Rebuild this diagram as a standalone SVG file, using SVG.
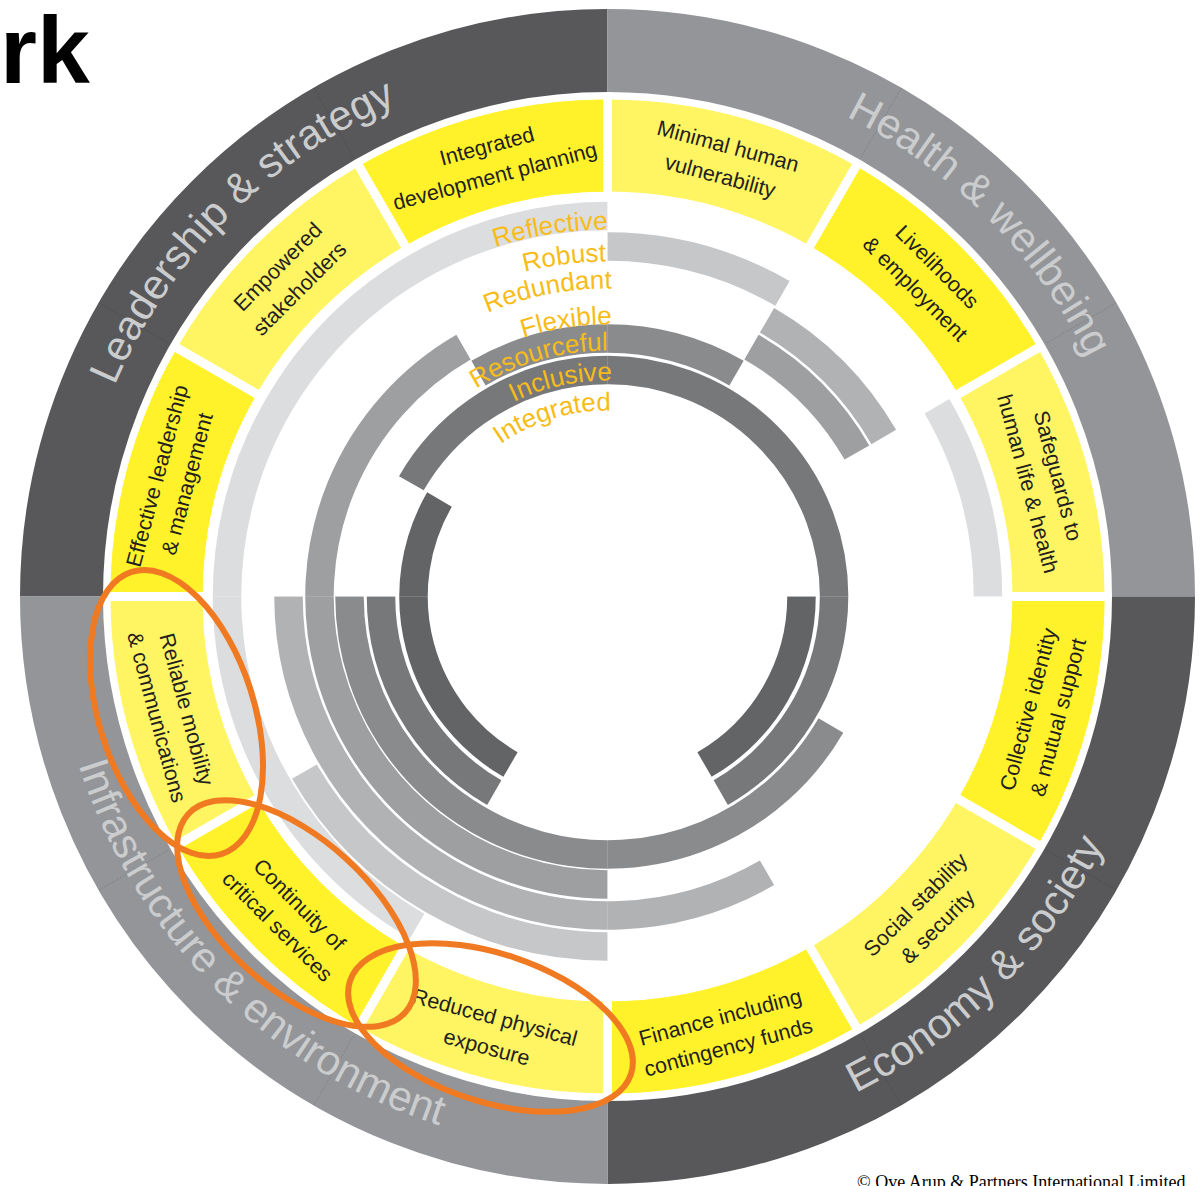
<svg xmlns="http://www.w3.org/2000/svg" width="1203" height="1186" viewBox="0 0 1203 1186">
<style>
.c{fill:none}
.qd{stroke:#58585a}
.qm{stroke:#939598}
.outer{stroke-width:83}
.ylw{stroke-width:92}
.yb{stroke:#fff22b}
.yl{stroke:#fff462}
.rg{stroke-width:28.5}
.r1{stroke:#dcddde}
.r2{stroke:#c6c7c9}
.r3{stroke:#b1b2b4}
.r4{stroke:#9e9fa1}
.r5{stroke:#8a8b8d}
.r6{stroke:#77787a}
.r7{stroke:#636466}
.gap{stroke:#ffffff;stroke-width:9}
.seam{stroke:#000000;stroke-opacity:0.12;stroke-width:1;stroke-dasharray:1.5 1.5}
.iseam{stroke:#ffffff;stroke-opacity:0.15;stroke-width:1}
.goal{font-family:"Liberation Sans",Arial,sans-serif;font-size:21.5px;fill:#231f20;text-anchor:middle}
.qual{font-family:"Liberation Sans",Arial,sans-serif;font-size:26px;fill:#f7bc18;text-anchor:end}
.dom{font-family:"Liberation Sans",Arial,sans-serif;font-size:42px;fill:#cbccce;text-anchor:middle}
.oval{fill:none;stroke:#f07a22;stroke-width:6}
</style>
<defs>
<path id="p-lead" d="M79.65,689.58 A536,536 0 0 1 700.58,68.64"/>
<path id="p-health" d="M514.42,68.64 A536,536 0 0 1 1135.36,689.58"/>
<path id="p-econ" d="M511.12,1143.07 A555,555 0 0 0 1154.07,500.12"/>
<path id="p-infra" d="M60.93,500.12 A555,555 0 0 0 703.88,1143.07"/>
<path id="p-q1" d="M262.63,722.01 A367,367 0 0 1 671.23,235.07"/>
<path id="p-q2" d="M292.70,711.07 A335,335 0 0 1 665.67,266.59"/>
<path id="p-q3" d="M318.07,701.84 A308,308 0 0 1 660.98,293.18"/>
<path id="p-q4" d="M351.90,689.52 A272,272 0 0 1 654.73,328.63"/>
<path id="p-q5" d="M376.33,680.63 A246,246 0 0 1 650.22,354.24"/>
<path id="p-q6" d="M404.52,670.37 A216,216 0 0 1 645.01,383.78"/>
<path id="p-q7" d="M432.72,660.11 A186,186 0 0 1 639.80,413.33"/>
</defs>

<g id="title">
<text x="0" y="83" font-family="Liberation Sans,Arial,sans-serif" font-size="95" font-weight="bold" fill="#000000">rk</text>
</g>

<g id="outer-ring">
<path id="q-leadership" class="c qd outer" d="M61.5,596.5 A546,546 0 0 1 607.5,50.5"/>
<path id="q-health" class="c qm outer" d="M607.5,50.5 A546,546 0 0 1 1153.5,596.5"/>
<path id="q-economy" class="c qd outer" d="M1153.5,596.5 A546,546 0 0 1 607.5,1142.5"/>
<path id="q-infrastructure" class="c qm outer" d="M607.5,1142.5 A546,546 0 0 1 61.5,596.5"/>
<g>
<line class="seam" x1="607.5" y1="9.5" x2="607.5" y2="90.5" transform="rotate(30 607.5 596.5)"/>
<line class="seam" x1="607.5" y1="9.5" x2="607.5" y2="90.5" transform="rotate(60 607.5 596.5)"/>
<line class="seam" x1="607.5" y1="9.5" x2="607.5" y2="90.5" transform="rotate(120 607.5 596.5)"/>
<line class="seam" x1="607.5" y1="9.5" x2="607.5" y2="90.5" transform="rotate(150 607.5 596.5)"/>
<line class="seam" x1="607.5" y1="9.5" x2="607.5" y2="90.5" transform="rotate(210 607.5 596.5)"/>
<line class="seam" x1="607.5" y1="9.5" x2="607.5" y2="90.5" transform="rotate(240 607.5 596.5)"/>
<line class="seam" x1="607.5" y1="9.5" x2="607.5" y2="90.5" transform="rotate(300 607.5 596.5)"/>
<line class="seam" x1="607.5" y1="9.5" x2="607.5" y2="90.5" transform="rotate(330 607.5 596.5)"/>
</g>
<text class="dom"><textPath href="#p-lead" startOffset="50%">Leadership &amp; strategy</textPath></text>
<text class="dom"><textPath href="#p-health" startOffset="50%">Health &amp; wellbeing</textPath></text>
<text class="dom"><textPath href="#p-econ" startOffset="50%">Economy &amp; society</textPath></text>
<text class="dom"><textPath href="#p-infra" startOffset="50%">Infrastructure &amp; environment</textPath></text>
</g>

<g id="goals-ring">
<circle class="c yl ylw" cx="607.5" cy="596.5" r="451"/>
<path class="c yb ylw" d="M833,205.92 A451,451 0 0 1 998.08,371"/>
<path class="c yb ylw" d="M1058.5,596.5 A451,451 0 0 1 998.08,822"/>
<path class="c yb ylw" d="M833,987.08 A451,451 0 0 1 607.5,1047.5"/>
<path class="c yb ylw" d="M382,987.08 A451,451 0 0 1 216.92,822"/>
<path class="c yb ylw" d="M156.5,596.5 A451,451 0 0 1 216.92,371"/>
<path class="c yb ylw" d="M382,205.92 A451,451 0 0 1 607.5,145.5"/>
<g>
<line class="gap" x1="607.5" y1="93.5" x2="607.5" y2="195.5"/>
<line class="gap" x1="607.5" y1="93.5" x2="607.5" y2="195.5" transform="rotate(30 607.5 596.5)"/>
<line class="gap" x1="607.5" y1="93.5" x2="607.5" y2="195.5" transform="rotate(60 607.5 596.5)"/>
<line class="gap" x1="607.5" y1="93.5" x2="607.5" y2="195.5" transform="rotate(90 607.5 596.5)"/>
<line class="gap" x1="607.5" y1="93.5" x2="607.5" y2="195.5" transform="rotate(120 607.5 596.5)"/>
<line class="gap" x1="607.5" y1="93.5" x2="607.5" y2="195.5" transform="rotate(150 607.5 596.5)"/>
<line class="gap" x1="607.5" y1="93.5" x2="607.5" y2="195.5" transform="rotate(180 607.5 596.5)"/>
<line class="gap" x1="607.5" y1="93.5" x2="607.5" y2="195.5" transform="rotate(210 607.5 596.5)"/>
<line class="gap" x1="607.5" y1="93.5" x2="607.5" y2="195.5" transform="rotate(240 607.5 596.5)"/>
<line class="gap" x1="607.5" y1="93.5" x2="607.5" y2="195.5" transform="rotate(270 607.5 596.5)"/>
<line class="gap" x1="607.5" y1="93.5" x2="607.5" y2="195.5" transform="rotate(300 607.5 596.5)"/>
<line class="gap" x1="607.5" y1="93.5" x2="607.5" y2="195.5" transform="rotate(330 607.5 596.5)"/>
</g>
</g>

<g id="goal-minimal-human-vulnerability" transform="translate(724.2,160.9) rotate(15)"><text class="goal"><tspan x="0" y="-8">Minimal human</tspan><tspan x="0" y="23">vulnerability</tspan></text></g>
<g id="goal-livelihoods" transform="translate(926.4,277.6) rotate(45)"><text class="goal"><tspan x="0" y="-8">Livelihoods</tspan><tspan x="0" y="23">&amp; employment</tspan></text></g>
<g id="goal-safeguards" transform="translate(1043.1,479.8) rotate(75)"><text class="goal"><tspan x="0" y="-8">Safeguards to</tspan><tspan x="0" y="23">human life &amp; health</tspan></text></g>
<g id="goal-collective-identity" transform="translate(1043.1,713.2) rotate(-75)"><text class="goal"><tspan x="0" y="-8">Collective identity</tspan><tspan x="0" y="23">&amp; mutual support</tspan></text></g>
<g id="goal-social-stability" transform="translate(926.4,915.4) rotate(-45)"><text class="goal"><tspan x="0" y="-8">Social stability</tspan><tspan x="0" y="23">&amp; security</tspan></text></g>
<g id="goal-finance" transform="translate(724.2,1032.1) rotate(-15)"><text class="goal"><tspan x="0" y="-8">Finance including</tspan><tspan x="0" y="23">contingency funds</tspan></text></g>
<g id="goal-reduced-exposure" transform="translate(490.8,1032.1) rotate(15)"><text class="goal"><tspan x="0" y="-8">Reduced physical</tspan><tspan x="0" y="23">exposure</tspan></text></g>
<g id="goal-continuity" transform="translate(288.6,915.4) rotate(45)"><text class="goal"><tspan x="0" y="-8">Continuity of</tspan><tspan x="0" y="23">critical services</tspan></text></g>
<g id="goal-reliable-mobility" transform="translate(171.9,713.2) rotate(75)"><text class="goal"><tspan x="0" y="-8">Reliable mobility</tspan><tspan x="0" y="23">&amp; communications</tspan></text></g>
<g id="goal-effective-leadership" transform="translate(171.9,479.8) rotate(-75)"><text class="goal"><tspan x="0" y="-8">Effective leadership</tspan><tspan x="0" y="23">&amp; management</tspan></text></g>
<g id="goal-empowered-stakeholders" transform="translate(288.6,277.6) rotate(-45)"><text class="goal"><tspan x="0" y="-8">Empowered</tspan><tspan x="0" y="23">stakeholders</tspan></text></g>
<g id="goal-integrated-planning" transform="translate(490.8,160.9) rotate(-15)"><text class="goal"><tspan x="0" y="-8">Integrated</tspan><tspan x="0" y="23">development planning</tspan></text></g>

<g id="qualities">
<path id="reflective-a" class="c rg r1" d="M937.01,406.25 A380.5,380.5 0 0 1 988,596.5"/>
<path id="reflective-b" class="c rg r1" d="M417.25,926.01 A380.5,380.5 0 0 1 607.5,216"/>
<path id="robust-a" class="c rg r2" d="M607.5,246.5 A350,350 0 0 1 782.5,293.39"/>
<path id="robust-b" class="c rg r2" d="M607.5,946.5 A350,350 0 0 1 304.39,771.5"/>
<path id="redundant-a" class="c rg r3" d="M767,320.24 A319,319 0 0 1 883.76,437"/>
<path id="redundant-b" class="c rg r3" d="M767,872.76 A319,319 0 0 1 288.5,596.5"/>
<path id="flexible-a" class="c rg r4" d="M751.5,347.08 A288,288 0 0 1 856.92,452.5"/>
<path id="flexible-b" class="c rg r4" d="M607.5,884.5 A288,288 0 0 1 463.5,347.08"/>
<path id="resourceful-a" class="c rg r5" d="M478.5,373.07 A258,258 0 0 1 736.5,373.07"/>
<path id="resourceful-b" class="c rg r5" d="M830.93,725.5 A258,258 0 0 1 349.5,596.5"/>
<path id="inclusive-a" class="c rg r6" d="M411.35,483.25 A226.5,226.5 0 1 1 720.75,792.65"/>
<path id="inclusive-b" class="c rg r6" d="M494.25,792.65 A226.5,226.5 0 0 1 381,596.5"/>
<path id="integrated-a" class="c rg r7" d="M801.5,596.5 A194,194 0 0 1 704.5,764.51"/>
<path id="integrated-b" class="c rg r7" d="M510.5,764.51 A194,194 0 0 1 439.49,499.5"/>
<g>
<line class="iseam" x1="607.5" y1="199" x2="607.5" y2="418"/>
<line class="iseam" x1="607.5" y1="199" x2="607.5" y2="418" transform="rotate(90 607.5 596.5)"/>
<line class="iseam" x1="607.5" y1="199" x2="607.5" y2="418" transform="rotate(180 607.5 596.5)"/>
<line class="iseam" x1="607.5" y1="199" x2="607.5" y2="418" transform="rotate(270 607.5 596.5)"/>
</g>
<text class="qual"><textPath href="#p-q1" startOffset="704.6">Reflective</textPath></text>
<text class="qual"><textPath href="#p-q2" startOffset="641.5">Robust</textPath></text>
<text class="qual"><textPath href="#p-q3" startOffset="595.3">Redundant</textPath></text>
<text class="qual"><textPath href="#p-q4" startOffset="526.2">Flexible</textPath></text>
<text class="qual"><textPath href="#p-q5" startOffset="472.3">Resourceful</textPath></text>
<text class="qual"><textPath href="#p-q6" startOffset="418.7">Inclusive</textPath></text>
<text class="qual"><textPath href="#p-q7" startOffset="360.1">Integrated</textPath></text>
</g>

<g id="highlights">
<ellipse class="oval" cx="176.5" cy="713" rx="148" ry="77.6" transform="rotate(72.35 176.5 713)"/>
<ellipse class="oval" cx="296.5" cy="913.5" rx="147" ry="74" transform="rotate(42.5 296.5 913.5)"/>
<ellipse class="oval" cx="490.5" cy="1027.5" rx="148" ry="74" transform="rotate(18.4 490.5 1027.5)"/>
</g>

<g id="copyright">
<text x="857" y="1188" font-family="Liberation Serif,Times New Roman,serif" font-size="18" fill="#000000">© Ove Arup &amp; Partners International Limited</text>
</g>
</svg>
